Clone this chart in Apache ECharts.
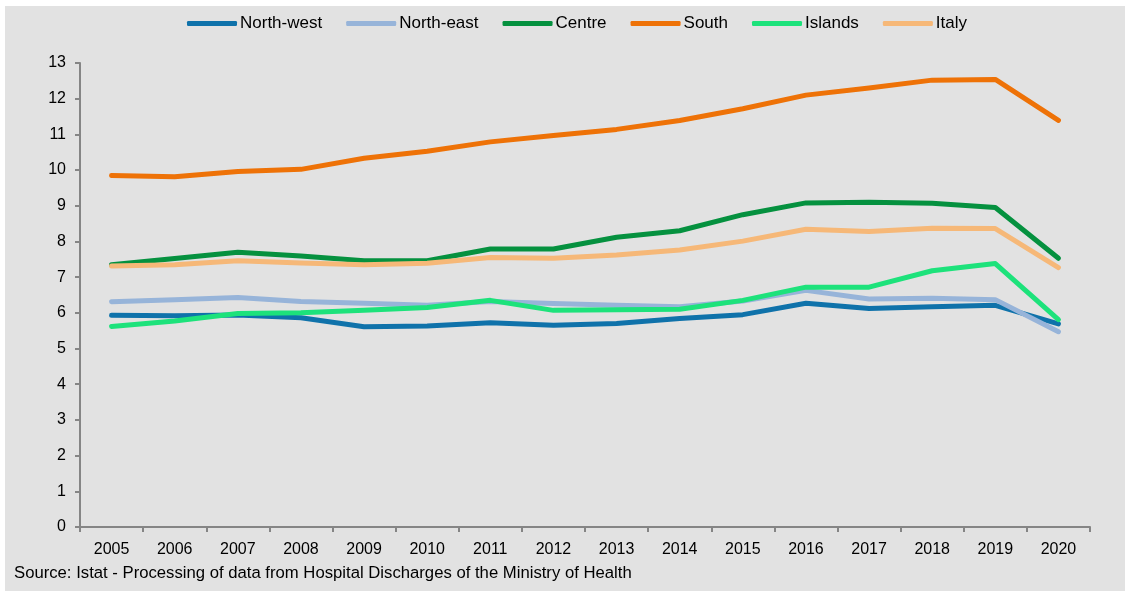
<!DOCTYPE html>
<html>
<head>
<meta charset="utf-8">
<script src="https://cdn.jsdelivr.net/npm/echarts@6/dist/echarts.min.js"></script>
<style>
  html, body { margin: 0; padding: 0; background: #ffffff; }
  #chart { position: absolute; left: 5px; top: 6px; width: 1120px; height: 585px; background: #e2e2e2; }
</style>
</head>
<body>
<div id="chart"></div>
<script>
// Years on the horizontal axis
const years = ['2005','2006','2007','2008','2009','2010','2011','2012','2013','2014','2015','2016','2017','2018','2019','2020'];

// Rates by area
const northWest = [5.93, 5.92, 5.94, 5.86, 5.61, 5.63, 5.72, 5.65, 5.70, 5.84, 5.95, 6.27, 6.12, 6.17, 6.21, 5.69];
const northEast = [6.31, 6.37, 6.43, 6.32, 6.27, 6.21, 6.32, 6.26, 6.21, 6.17, 6.33, 6.63, 6.39, 6.41, 6.37, 5.47];
const centre    = [7.35, 7.52, 7.70, 7.59, 7.46, 7.46, 7.79, 7.79, 8.12, 8.30, 8.75, 9.08, 9.10, 9.07, 8.95, 7.53];
const south     = [9.85, 9.81, 9.96, 10.02, 10.33, 10.53, 10.79, 10.97, 11.14, 11.39, 11.72, 12.10, 12.30, 12.52, 12.54, 11.39];
const islands   = [5.62, 5.77, 5.98, 6.00, 6.07, 6.15, 6.35, 6.07, 6.09, 6.10, 6.35, 6.72, 6.72, 7.18, 7.38, 5.81];
const italy     = [7.31, 7.35, 7.46, 7.40, 7.35, 7.39, 7.55, 7.53, 7.62, 7.76, 8.01, 8.34, 8.28, 8.37, 8.36, 7.27];

const seriesDefs = [
  { name: 'North-west', data: northWest, color: '#0f72aa' },
  { name: 'North-east', data: northEast, color: '#97b4d9' },
  { name: 'Centre',     data: centre,    color: '#05913f' },
  { name: 'South',      data: south,     color: '#ee7207' },
  { name: 'Islands',    data: islands,   color: '#1de27b' },
  { name: 'Italy',      data: italy,     color: '#f6b878' }
];

const sourceNote = 'Source: Istat - Processing of data from Hospital Discharges of the Ministry of Health';

const chart = echarts.init(document.getElementById('chart'), null, { renderer: 'canvas' });

chart.setOption({
  animation: false,
  backgroundColor: '#e2e2e2',
  textStyle: { fontFamily: '"Liberation Sans", Arial, sans-serif' },
  legend: {
    top: 4,
    left: 177,
    icon: 'roundRect',
    itemWidth: 50,
    itemHeight: 5,
    itemGap: 24,
    textStyle: {
      fontFamily: '"Liberation Sans", Arial, sans-serif',
      fontSize: 17,
      color: '#000000',
      padding: [0, 0, 0, -2]
    },
    data: seriesDefs.map(s => s.name)
  },
  graphic: [{
    type: 'text',
    left: 9,
    top: 559,
    style: {
      text: sourceNote,
      fontFamily: '"Liberation Sans", Arial, sans-serif',
      fontSize: 16.7,
      fill: '#000000'
    }
  }],
  grid: { left: 75, right: 35, top: 57, bottom: 64 },
  xAxis: {
    type: 'category',
    data: years,
    boundaryGap: true,
    axisLine: { lineStyle: { color: '#858585', width: 2 } },
    axisTick: { show: true, length: 5, alignWithLabel: false, lineStyle: { color: '#858585', width: 2 } },
    axisLabel: { color: '#000000', fontSize: 16, margin: 15 },
    splitLine: { show: false }
  },
  yAxis: {
    type: 'value',
    min: 0,
    max: 13,
    interval: 1,
    axisLine: { show: true, lineStyle: { color: '#858585', width: 2 } },
    axisTick: { show: true, length: 5, lineStyle: { color: '#858585', width: 2 } },
    axisLabel: { color: '#000000', fontSize: 16, margin: 14 },
    splitLine: { show: false }
  },
  series: seriesDefs.map(s => ({
    name: s.name,
    type: 'line',
    data: s.data,
    symbol: 'none',
    color: s.color,
    lineStyle: { color: s.color, width: 5, cap: 'round', join: 'round' },
    emphasis: { disabled: true }
  }))
});
</script>
</body>
</html>
